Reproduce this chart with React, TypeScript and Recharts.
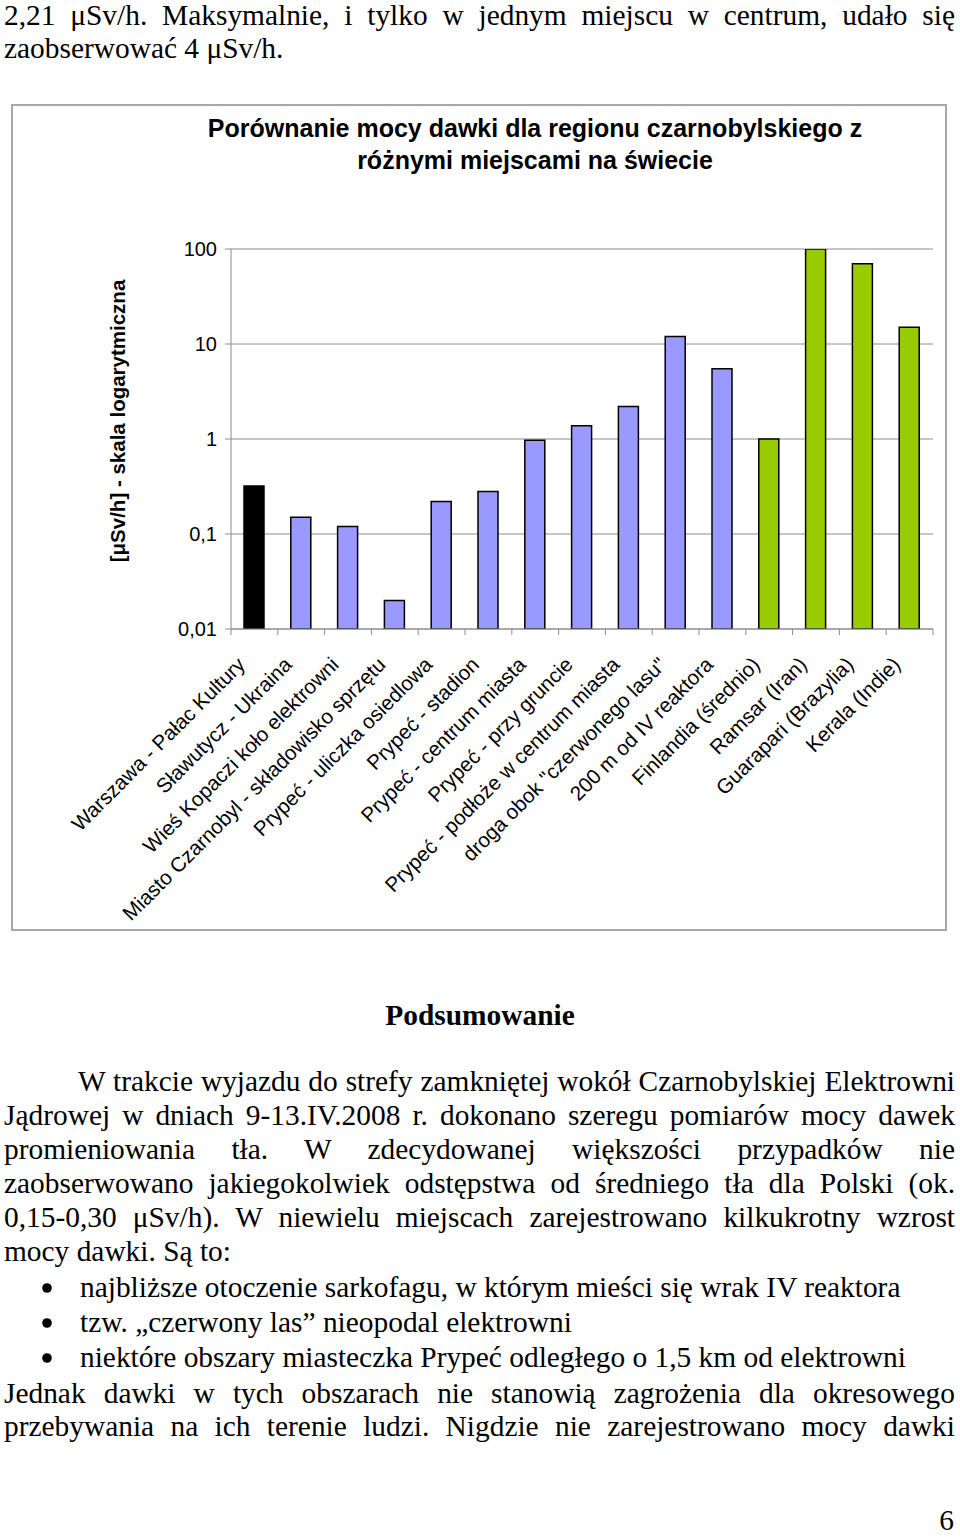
import React, { useLayoutEffect, useRef, useState } from "react";
import { BarChart, Bar, XAxis, YAxis, CartesianGrid, Cell } from "recharts";

// Miejsca pomiarów i zmierzone moce dawki [µSv/h]
const categories = [
  "Warszawa - Pałac Kultury",
  "Sławutycz - Ukraina",
  "Wieś Kopaczi koło elektrowni",
  "Miasto Czarnobyl - składowisko sprzętu",
  "Prypeć - uliczka osiedlowa",
  "Prypeć - stadion",
  "Prypeć - centrum miasta",
  "Prypeć - przy gruncie",
  "Prypeć - podłoże w centrum miasta",
  'droga obok "czerwonego lasu"',
  "200 m od IV reaktora",
  "Finlandia (średnio)",
  "Ramsar (Iran)",
  "Guarapari (Brazylia)",
  "Kerala (Indie)",
];
const doseRates = [0.32, 0.15, 0.12, 0.02, 0.22, 0.28, 0.97, 1.38, 2.2, 12, 5.5, 1, 100, 70, 15];
const regions = [
  "polska", "czarnobyl", "czarnobyl", "czarnobyl", "czarnobyl", "czarnobyl", "czarnobyl",
  "czarnobyl", "czarnobyl", "czarnobyl", "czarnobyl", "swiat", "swiat", "swiat", "swiat",
];
const yTicks = [0.01, 0.1, 1, 10, 100];

const REGION_COLORS: Record<string, string> = {
  polska: "#000000",
  czarnobyl: "#9999FF",
  swiat: "#99CC00",
};

const SANS = "'Liberation Sans', Arial, sans-serif";
const SERIF = "'Liberation Serif', 'Times New Roman', serif";
const GRID = "#8c8c8c";
const BODY_SIZE = 29.4;

const PLOT_W = 702;
const BAND = PLOT_W / categories.length;

function CategoryTick(props: any) {
  const { x, y, payload, index } = props;
  const last = index === categories.length - 1;
  return (
    <g>
      <line x1={x - BAND / 2} x2={x - BAND / 2} y1={y} y2={y + 6} stroke={GRID} />
      {last && <line x1={x + BAND / 2} x2={x + BAND / 2} y1={y} y2={y + 6} stroke={GRID} />}
      <text
        transform={`translate(${x - 8},${y + 37}) rotate(-45)`}
        textAnchor="end"
        fontFamily={SANS}
        fontSize={20.6}
        fill="#000"
      >
        {payload.value}
      </text>
    </g>
  );
}

// linia tekstu wyjustowana przez odstępy między wyrazami
function JustLine({ x, y, width, text }: { x: number; y: number; width: number; text: string }) {
  const ref = useRef<SVGTextElement>(null);
  const [ws, setWs] = useState(0);
  useLayoutEffect(() => {
    const el = ref.current;
    if (!el) return;
    const natural = el.getComputedTextLength();
    const spaces = (text.match(/ /g) || []).length;
    if (spaces) setWs((width - natural) / spaces);
  }, [text, width]);
  return (
    <text ref={ref} x={x} y={y} fontFamily={SERIF} fontSize={BODY_SIZE} style={{ wordSpacing: ws }}>
      {text}
    </text>
  );
}

function Line({ x, y, text, anchor, bold }: { x: number; y: number; text: string; anchor?: string; bold?: boolean }) {
  return (
    <text x={x} y={y} fontFamily={SERIF} fontSize={BODY_SIZE} textAnchor={anchor as any} fontWeight={bold ? "bold" : "normal"}>
      {text}
    </text>
  );
}

function BulletLine({ y, text }: { y: number; text: string }) {
  return (
    <g>
      <circle cx={47} cy={y - 9} r={4.8} fill="#000" />
      <Line x={80} y={y} text={text} />
    </g>
  );
}

export default function App() {
  const data = categories.map((name, i) => ({ name, value: doseRates[i], region: regions[i] }));

  return (
    <div style={{ position: "absolute", left: 0, top: 0, width: 960, height: 1537, background: "#fff" }}>
      <svg width={960} height={1537} style={{ position: "absolute", left: 0, top: 0 }}>
        <JustLine x={4} y={25} width={951} text="2,21 μSv/h. Maksymalnie, i tylko w jednym miejscu w centrum, udało się" />
        <Line x={4} y={58} text="zaobserwować 4 μSv/h." />

        <text x={535} y={137} textAnchor="middle" fontFamily={SANS} fontWeight="bold" fontSize={25}>
          Porównanie mocy dawki dla regionu czarnobylskiego z
        </text>
        <text x={535} y={169} textAnchor="middle" fontFamily={SANS} fontWeight="bold" fontSize={25}>
          różnymi miejscami na świecie
        </text>
        <text
          transform="translate(125,421) rotate(-90)"
          textAnchor="middle"
          fontFamily={SANS}
          fontWeight="bold"
          fontSize={20.5}
        >
          [μSv/h] - skala logarytmiczna
        </text>

        <Line x={480} y={1025} text="Podsumowanie" anchor="middle" bold />
        <JustLine x={78} y={1091} width={877} text="W trakcie wyjazdu do strefy zamkniętej wokół Czarnobylskiej Elektrowni" />
        <JustLine x={4} y={1125} width={951} text="Jądrowej w dniach 9-13.IV.2008 r. dokonano szeregu pomiarów mocy dawek" />
        <JustLine x={4} y={1159} width={951} text="promieniowania tła. W zdecydowanej większości przypadków nie" />
        <JustLine x={4} y={1193} width={951} text="zaobserwowano jakiegokolwiek odstępstwa od średniego tła dla Polski (ok." />
        <JustLine x={4} y={1227} width={951} text="0,15-0,30 μSv/h). W niewielu miejscach zarejestrowano kilkukrotny wzrost" />
        <Line x={4} y={1261} text="mocy dawki. Są to:" />

        <BulletLine y={1297} text="najbliższe otoczenie sarkofagu, w którym mieści się wrak IV reaktora" />
        <BulletLine y={1332} text="tzw. „czerwony las” nieopodal elektrowni" />
        <BulletLine y={1367} text="niektóre obszary miasteczka Prypeć odległego o 1,5 km od elektrowni" />

        <JustLine x={4} y={1403} width={951} text="Jednak dawki w tych obszarach nie stanowią zagrożenia dla okresowego" />
        <JustLine x={4} y={1436} width={951} text="przebywania na ich terenie ludzi. Nigdzie nie zarejestrowano mocy dawki" />
        <Line x={954} y={1530} text="6" anchor="end" />
      </svg>

      <div
        style={{
          position: "absolute",
          left: 11,
          top: 104,
          width: 936,
          height: 827,
          border: "2px solid #a8a8a8",
          boxSizing: "border-box",
        }}
      />
      <div style={{ position: "absolute", left: 11, top: 104 }}>
        <BarChart
          width={936}
          height={827}
          data={data}
          margin={{ top: 145, right: 14, bottom: 0, left: 0 }}
          barSize={20}
        >
          <CartesianGrid vertical={false} stroke={GRID} />
          <XAxis
            dataKey="name"
            interval={0}
            height={302}
            tickLine={false}
            tickSize={0}
            tickMargin={0}
            axisLine={{ stroke: GRID }}
            tick={<CategoryTick />}
          />
          <YAxis
            width={220}
            scale="log"
            type="number"
            domain={[0.01, 100]}
            allowDataOverflow
            ticks={yTicks}
            interval={0}
            tickFormatter={(v: number) => String(v).replace(".", ",")}
            tick={{ fontFamily: SANS, fontSize: 20, fill: "#000" }}
            tickSize={6}
            tickMargin={8}
            tickLine={{ stroke: GRID }}
            axisLine={{ stroke: GRID }}
          />
          <YAxis
            yAxisId="edge"
            orientation="right"
            width={0}
            type="number"
            domain={[0, 1]}
            tick={false}
            tickLine={false}
            axisLine={{ stroke: GRID }}
          />
          <Bar dataKey="value" stroke="#000" strokeWidth={1.5} isAnimationActive={false}>
            {data.map((d, i) => (
              <Cell key={`bar-${i}`} fill={REGION_COLORS[d.region]} />
            ))}
          </Bar>
        </BarChart>
      </div>
    </div>
  );
}
